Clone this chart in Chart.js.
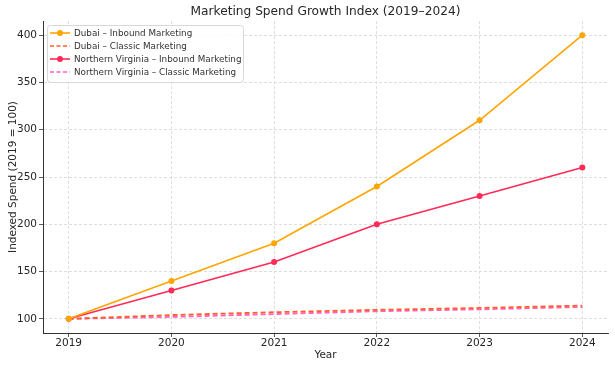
<!DOCTYPE html>
<html>
<head>
<meta charset="utf-8">
<script src="https://cdn.jsdelivr.net/npm/chart.js@4.4.1/dist/chart.umd.min.js"></script>
<style>
    html, body { margin: 0; padding: 0; background: #ffffff; }
    #wrap { width: 615px; height: 367px; }
</style>
</head>
<body>
<div id="wrap"><canvas id="chart-growth" width="615" height="367"></canvas></div>
<script>
// Data dibaca dari gambar referensi
const years = ['2019', '2020', '2021', '2022', '2023', '2024'];
const dubaiInbound = [100, 140, 180, 240, 310, 400];
const dubaiClassic = [100, 104, 107, 109.5, 111.5, 114];
const novaInbound = [100, 130, 160, 200, 230, 260];
const novaClassic = [100, 102, 105, 108, 110, 112.5];
const yTicks = [100, 150, 200, 250, 300, 350, 400];

const TITLE = 'Marketing Spend Growth Index (2019–2024)';
const FONT = '"DejaVu Sans", sans-serif';

const seriesList = [
    { label: 'Dubai – Inbound Marketing', values: dubaiInbound, color: '#FFA500', dashed: false },
    { label: 'Dubai – Classic Marketing', values: dubaiClassic, color: '#FF5F2A', dashed: true },
    { label: 'Northern Virginia – Inbound Marketing', values: novaInbound, color: '#FF2A55', dashed: false },
    { label: 'Northern Virginia – Classic Marketing', values: novaClassic, color: '#FF62C0', dashed: true }
];

const toPoints = arr => arr.map((v, i) => ({ x: i, y: v }));

// Judul di tengah area plot (bukan tengah canvas)
const plotTitle = {
    id: 'plotTitle',
    afterDraw(chart) {
        const c = chart.ctx;
        const area = chart.chartArea;
        c.save();
        c.font = '12.2px ' + FONT;
        c.fillStyle = '#262626';
        c.textAlign = 'center';
        c.textBaseline = 'middle';
        c.fillText(TITLE, (area.left + area.right) / 2, 12);
        c.restore();
    }
};

// Legenda ala matplotlib, digambar di dalam area plot
const legendBox = {
    id: 'legendBox',
    afterDraw(chart) {
        const c = chart.ctx;
        const area = chart.chartArea;
        const x0 = area.left + 4, y0 = area.top + 4;
        const w = 196, h = 57;
        c.save();
        c.fillStyle = 'rgba(255,255,255,0.85)';
        c.strokeStyle = '#d8d8d8';
        c.lineWidth = 1;
        c.beginPath();
        c.roundRect(x0 + 0.5, y0 + 0.5, w, h, 3);
        c.fill();
        c.stroke();
        c.font = '8.8px ' + FONT;
        c.textBaseline = 'middle';
        seriesList.forEach((s, i) => {
            const y = y0 + 8 + i * 13;
            c.strokeStyle = s.color;
            c.lineWidth = 1.6;
            c.setLineDash(s.dashed ? [4, 2.5] : []);
            c.beginPath();
            c.moveTo(x0 + 3, y);
            c.lineTo(x0 + 23, y);
            c.stroke();
            c.setLineDash([]);
            if (!s.dashed) {
                c.fillStyle = s.color;
                c.beginPath();
                c.arc(x0 + 13, y, 3, 0, Math.PI * 2);
                c.fill();
            }
            c.fillStyle = '#333333';
            c.fillText(s.label, x0 + 27, y + 0.5);
        });
        c.restore();
    }
};

const gridStyle = {
    color: '#d6d6d6',
    lineWidth: 0.8,
    drawTicks: true,
    tickLength: 4,
    tickColor: '#333333',
    tickBorderDash: []
};

new Chart(document.getElementById('chart-growth'), {
    type: 'line',
    data: {
        datasets: seriesList.map(s => ({
            label: s.label,
            data: toPoints(s.values),
            borderColor: s.color,
            backgroundColor: s.color,
            borderWidth: s.dashed ? 1.8 : 1.6,
            borderDash: s.dashed ? [5, 3] : [],
            pointRadius: s.dashed ? 0 : 3,
            pointHoverRadius: s.dashed ? 0 : 3,
            pointBorderWidth: 0,
            tension: 0,
            fill: false
        }))
    },
    options: {
        responsive: false,
        animation: false,
        layout: { padding: { left: 0, right: 7, top: 21, bottom: 0 } },
        plugins: {
            legend: { display: false },
            tooltip: { enabled: false },
            title: { display: false }
        },
        scales: {
            x: {
                type: 'linear',
                min: -0.25,
                max: 5.25,
                afterBuildTicks: scale => {
                    scale.ticks = years.map((y, i) => ({ value: i }));
                },
                afterFit: scale => { scale.height = 34; },
                ticks: {
                    color: '#262626',
                    font: { family: FONT, size: 10.5 },
                    padding: 0,
                    maxRotation: 0,
                    callback: v => years[v]
                },
                grid: gridStyle,
                border: { display: true, color: '#333333', width: 1, dash: [3, 2] },
                title: {
                    display: true,
                    text: 'Year',
                    color: '#262626',
                    font: { family: FONT, size: 10.5 },
                    padding: { top: 0, bottom: 5 }
                }
            },
            y: {
                min: 85,
                max: 415,
                afterBuildTicks: scale => {
                    scale.ticks = yTicks.map(v => ({ value: v }));
                },
                afterFit: scale => { scale.width = 43; },
                ticks: {
                    color: '#262626',
                    font: { family: FONT, size: 10.5 },
                    padding: 2
                },
                grid: gridStyle,
                border: { display: true, color: '#333333', width: 1, dash: [3, 2] },
                title: {
                    display: true,
                    text: 'Indexed Spend (2019 = 100)',
                    color: '#262626',
                    font: { family: FONT, size: 10.5 },
                    padding: { top: 7, bottom: 0 }
                }
            }
        }
    },
    plugins: [plotTitle, legendBox]
});
</script>
</body>
</html>
